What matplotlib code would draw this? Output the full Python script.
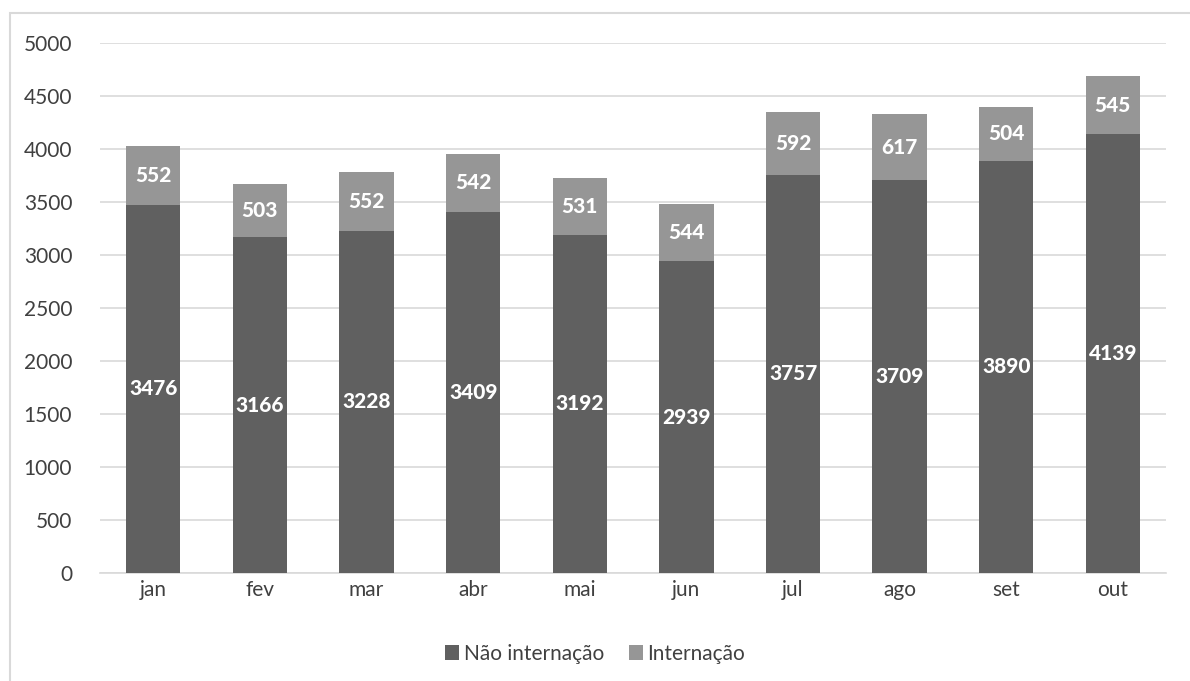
import matplotlib.pyplot as plt
from matplotlib.patches import Rectangle
import numpy as np

# Data
months = ["jan", "fev", "mar", "abr", "mai", "jun", "jul", "ago", "set", "out"]
nao_internacao = [3476, 3166, 3228, 3409, 3192, 2939, 3757, 3709, 3890, 4139]
internacao = [552, 503, 552, 542, 531, 544, 592, 617, 504, 545]

dark = "#606060"
light = "#969696"
text_color = "#404040"

plt.rcParams['font.family'] = ['Lato', 'DejaVu Sans']

fig = plt.figure(figsize=(11.9, 6.81), dpi=100)
ax = fig.add_axes([0.084, 0.1586, 0.896, 0.7783])

# chart border
fig.patches.append(Rectangle((10 / 1190, -0.01), 1.0, 1 - 13 / 681 + 0.01,
                             transform=fig.transFigure, fill=False,
                             edgecolor="#d9d9d9", linewidth=1.5))

x = np.arange(len(months))
w = 0.51
b1 = ax.bar(x, nao_internacao, w, color=dark, label="Não internação", zorder=3)
b2 = ax.bar(x, internacao, w, bottom=nao_internacao, color=light,
            label="Internação", zorder=3)

for i in range(len(months)):
    ax.text(x[i], nao_internacao[i] / 2, str(nao_internacao[i]), color="white",
            fontsize=15, fontweight="black", ha="center", va="center", zorder=4)
    ax.text(x[i], nao_internacao[i] + internacao[i] / 2, str(internacao[i]),
            color="white", fontsize=15, fontweight="black", ha="center",
            va="center", zorder=4)

ax.set_xlim(-0.5, len(months) - 0.5)
ax.set_ylim(0, 5000)
ax.set_yticks(range(0, 5001, 500))
ax.set_xticks(x)
ax.set_xticklabels(months)
ax.grid(axis="y", color="#d9d9d9", linewidth=1.2, zorder=0)
for s in ["top", "right", "left"]:
    ax.spines[s].set_visible(False)
ax.spines["bottom"].set_color("#d9d9d9")
ax.spines["bottom"].set_linewidth(1.2)
ax.tick_params(axis="both", length=0, labelsize=15, labelcolor=text_color)
ax.tick_params(axis="x", pad=5)
ax.tick_params(axis="y", pad=20)

fig.legend(handles=[b1, b2], loc="center", bbox_to_anchor=(0.5, 1 - 654 / 681),
           ncol=2, frameon=False, fontsize=15, labelcolor=text_color,
           handlelength=0.7, handleheight=0.7, handletextpad=0.2,
           columnspacing=1.2)

fig.savefig("out.png", dpi=100)
